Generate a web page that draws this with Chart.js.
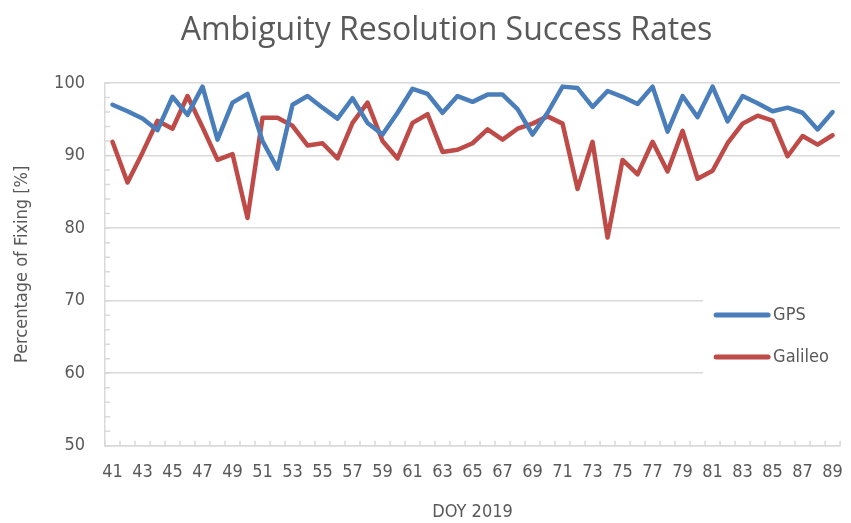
<!DOCTYPE html>
<html>
<head>
<meta charset="utf-8">
<script src="https://cdn.jsdelivr.net/npm/chart.js@4.4.1/dist/chart.umd.min.js"></script>
<style>
  html, body { margin: 0; padding: 0; background: #fff; }
  #wrap { width: 851px; height: 523px; }
</style>
</head>
<body>
<div id="wrap"><canvas id="chart" width="851" height="523"></canvas></div>
<script>
// ---------------- data ----------------
const days = [];
for (let d = 41; d <= 89; d++) days.push(String(d));

const gps = [
  97.0, 96.1, 95.1, 93.5, 98.1, 95.6, 99.5, 92.2, 97.3, 98.5,
  92.0, 88.2, 97.0, 98.2, 96.6, 95.1, 97.9, 94.5, 92.9, 95.9,
  99.2, 98.5, 95.9, 98.2, 97.4, 98.4, 98.4, 96.4, 92.9, 95.9,
  99.5, 99.3, 96.7, 98.9, 98.1, 97.1, 99.5, 93.3, 98.2, 95.3,
  99.5, 94.7, 98.2, 97.2, 96.1, 96.6, 95.9, 93.6, 96.0
];
const galileo = [
  91.9, 86.3, 90.4, 94.8, 93.7, 98.2, 93.9, 89.4, 90.2, 81.4,
  95.2, 95.2, 94.1, 91.4, 91.7, 89.6, 94.5, 97.3, 92.0, 89.6,
  94.5, 95.7, 90.5, 90.8, 91.7, 93.6, 92.2, 93.7, 94.4, 95.4,
  94.4, 85.4, 91.9, 78.7, 89.4, 87.4, 91.9, 87.8, 93.4, 86.8,
  87.9, 91.7, 94.4, 95.5, 94.8, 89.9, 92.7, 91.5, 92.8
];
const seriesNames = ['GPS', 'Galileo'];
const seriesColors = ['#4A7EBB', '#BE4B48'];
const yMin = 50, yMax = 100;
const chartTitle = 'Ambiguity Resolution Success Rates';

const textColor = '#595959';
const gridColor = '#D9D9D9';
const narrow = "'DejaVu Sans Condensed', 'Liberation Sans Narrow', sans-serif";

// title drawn by hand, a little right of the canvas centre as in the original
const plotTitle = {
  id: 'plotTitle',
  afterDraw(chart) {
    const { ctx } = chart;
    ctx.save();
    ctx.font = "32px 'Open Sans', sans-serif";
    ctx.fillStyle = textColor;
    ctx.textAlign = 'center';
    ctx.textBaseline = 'middle';
    ctx.fillText(chartTitle, chart.width / 2 + 21, 31);
    ctx.restore();
  }
};

// small tick marks drawn inside the plot, like the spreadsheet original
const innerTicks = {
  id: 'innerTicks',
  beforeDatasetsDraw(chart) {
    const { ctx, scales: { x, y }, chartArea: a } = chart;
    ctx.save();
    ctx.strokeStyle = gridColor;
    ctx.lineWidth = 1.5;
    ctx.beginPath();
    for (let v = yMin; v <= yMax; v += 2) {
      const py = y.getPixelForValue(v);
      ctx.moveTo(a.left, py);
      ctx.lineTo(a.left + 5, py);
    }
    const half = (x.getPixelForValue(1) - x.getPixelForValue(0)) / 2;
    for (let i = 0; i <= days.length; i++) {
      const px = x.getPixelForValue(i) - half;
      ctx.moveTo(px, a.bottom);
      ctx.lineTo(px, a.bottom - 5);
    }
    ctx.stroke();
    ctx.restore();
  }
};

// legend sitting inside the plot area on the right
const insideLegend = {
  id: 'insideLegend',
  afterDatasetsDraw(chart) {
    const { ctx, chartArea: a } = chart;
    ctx.save();
    ctx.fillStyle = '#fff';
    ctx.fillRect(a.right - 137, a.top + 208, 145, 88);
    ctx.lineCap = 'round';
    ctx.lineWidth = 5;
    ctx.font = "18px " + narrow;
    ctx.textBaseline = 'middle';
    seriesNames.forEach((name, i) => {
      const ly = a.top + 232 + i * 42;
      ctx.strokeStyle = seriesColors[i];
      ctx.beginPath();
      ctx.moveTo(a.right - 124, ly);
      ctx.lineTo(a.right - 72, ly);
      ctx.stroke();
      ctx.fillStyle = textColor;
      ctx.fillText(name, a.right - 67, ly);
    });
    ctx.restore();
  }
};

new Chart(document.getElementById('chart').getContext('2d'), {
  type: 'line',
  data: {
    labels: days,
    datasets: [
      { label: seriesNames[0], data: gps, borderColor: seriesColors[0], borderWidth: 4.5,
        pointRadius: 0, tension: 0, borderJoinStyle: 'round', borderCapStyle: 'round' },
      { label: seriesNames[1], data: galileo, borderColor: seriesColors[1], borderWidth: 4.5,
        pointRadius: 0, tension: 0, borderJoinStyle: 'round', borderCapStyle: 'round' }
    ]
  },
  options: {
    responsive: false,
    animation: false,
    layout: { padding: { left: 12, right: 10, top: 83, bottom: 0 } },
    plugins: {
      legend: { display: false },
      tooltip: { enabled: false },
      title: { display: false }
    },
    scales: {
      x: {
        offset: true,
        grid: { display: false },
        border: { display: true, color: gridColor, width: 1.5 },
        ticks: {
          autoSkip: false,
          maxRotation: 0,
          color: textColor,
          padding: 8,
          font: { family: narrow, size: 18 },
          callback: (v, i) => (i % 2 === 0 ? days[i] : '')
        },
        title: {
          display: true, text: 'DOY 2019', color: textColor,
          font: { family: narrow, size: 18 }, padding: { top: 10, bottom: 0 }
        }
      },
      y: {
        min: yMin, max: yMax,
        afterFit: s => { s.width = 93; },
        grid: {
          drawTicks: false,
          lineWidth: 1.5,
          color: c => (c.tick && c.tick.value % 10 === 0 ? gridColor : 'rgba(0,0,0,0)')
        },
        border: { display: true, color: gridColor, width: 1.5 },
        ticks: {
          stepSize: 2,
          autoSkip: false,
          color: textColor,
          padding: 20,
          font: { family: narrow, size: 18 },
          callback: v => (v % 10 === 0 ? v : '')
        },
        title: {
          display: true, text: 'Percentage of Fixing [%]', color: textColor,
          font: { family: narrow, size: 18 }, padding: { top: 0, bottom: 0 }
        }
      }
    }
  },
  plugins: [plotTitle, innerTicks, insideLegend]
});
</script>
</body>
</html>
